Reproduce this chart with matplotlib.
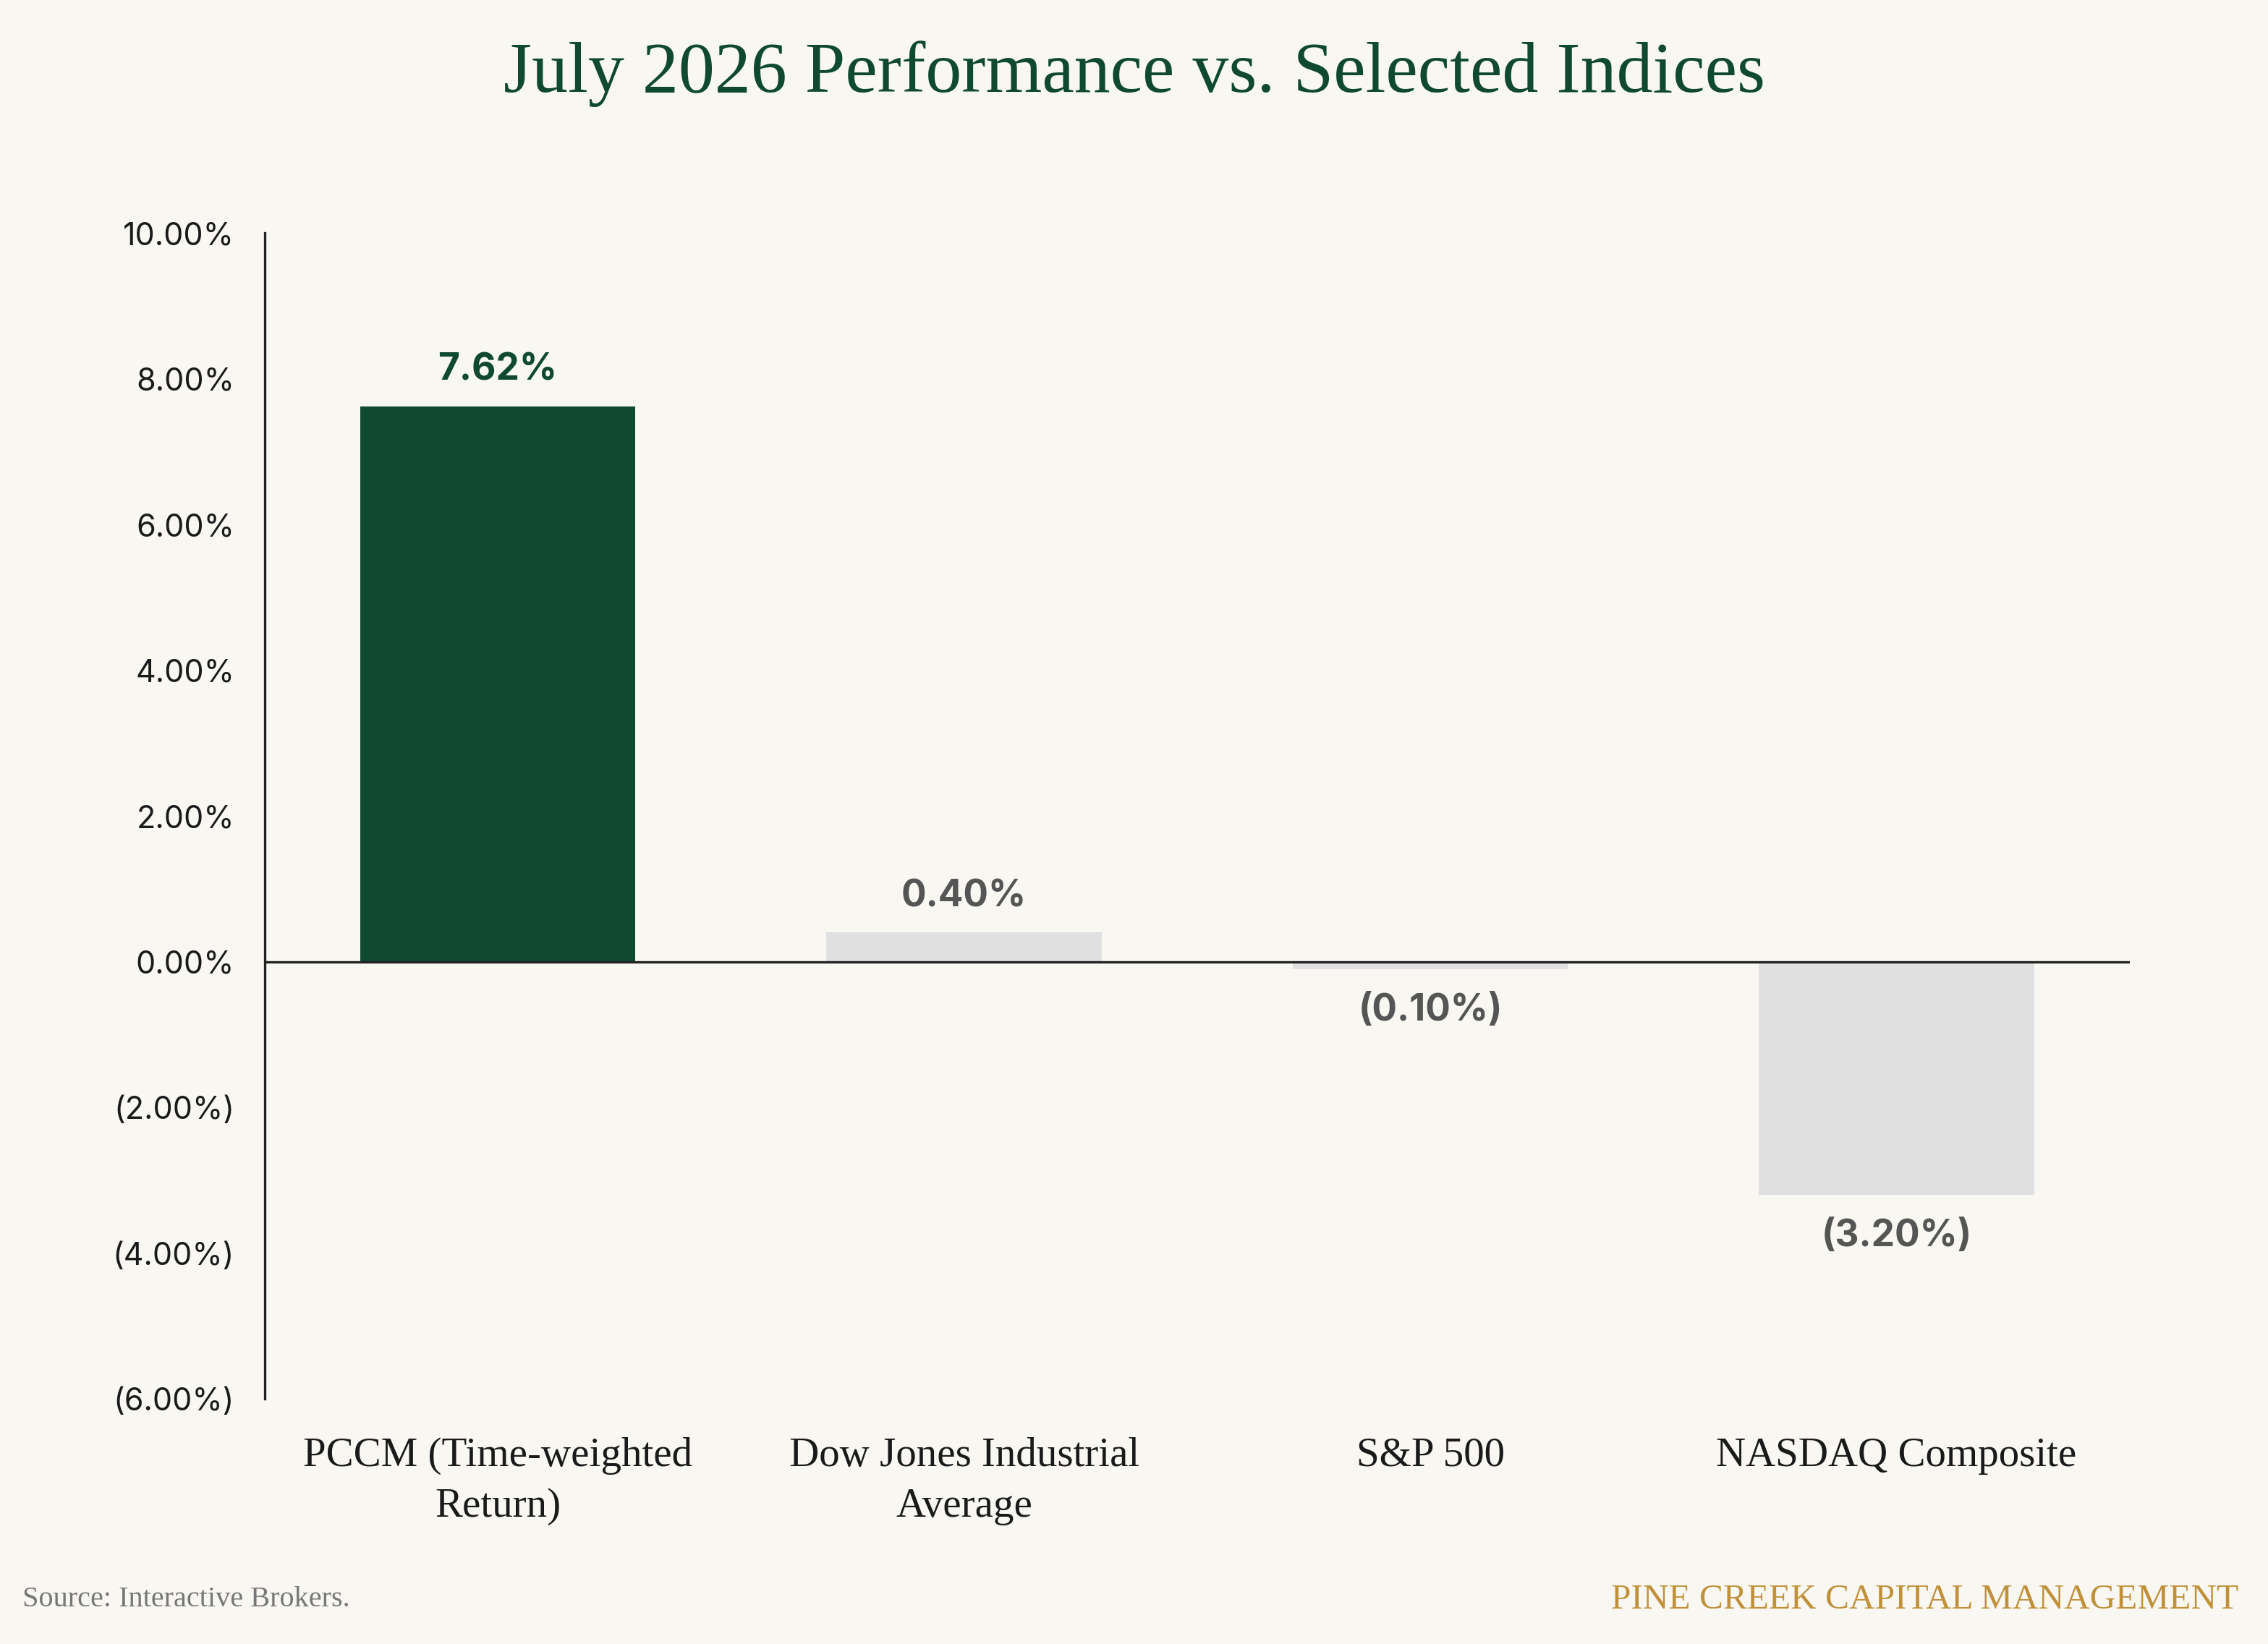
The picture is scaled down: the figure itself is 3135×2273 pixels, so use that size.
import matplotlib
matplotlib.use("Agg")
import matplotlib.pyplot as plt
from matplotlib.ticker import FixedLocator, FuncFormatter

categories = ["PCCM (Time-weighted\nReturn)", "Dow Jones Industrial\nAverage", "S&P 500", "NASDAQ Composite"]
values = [7.62, 0.40, -0.10, -3.20]
bar_colors = ["#0E4930", "#E0E0E0", "#E0E0E0", "#E0E0E0"]
label_colors = ["#0E4930", "#555555", "#555555", "#555555"]
yticks = [-6, -4, -2, 0, 2, 4, 6, 8, 10]

BG = "#F9F7F2"
SERIF = ["Liberation Serif", "DejaVu Serif"]
SANS = ["Inter", "DejaVu Sans"]

def fmt(v):
    if v < 0:
        return f"({abs(v):.2f}%)"
    return f"{v:.2f}%"

fig = plt.figure(figsize=(15.675, 11.365), dpi=200, facecolor=BG)
ax = fig.add_axes([0.1167, 0.1491, 0.939 - 0.1167, 0.8583 - 0.1491])
ax.set_facecolor(BG)

x = list(range(len(categories)))
ax.bar(x, values, width=0.59, color=bar_colors, zorder=2)
ax.axhline(0, color="#222222", linewidth=1.2, zorder=3)

ax.set_xlim(-0.5, 3.5)
ax.set_ylim(-6, 10)
ax.yaxis.set_major_locator(FixedLocator(yticks))
ax.yaxis.set_major_formatter(FuncFormatter(lambda v, p: fmt(v)))
ax.set_xticks(x)
ax.set_xticklabels(categories, fontfamily=SERIF, fontsize=20.5, color="#1a1a1a", linespacing=1.45)
ax.tick_params(axis="x", length=0, pad=19)
ax.tick_params(axis="y", length=0, pad=15, labelsize=15.5, labelcolor="#1a1a1a")
for lbl in ax.get_yticklabels():
    lbl.set_fontfamily(SANS)

for s in ["top", "right", "bottom"]:
    ax.spines[s].set_visible(False)
ax.spines["left"].set_color("#222222")
ax.spines["left"].set_linewidth(1.2)

for xi, v, c in zip(x, values, label_colors):
    if v >= 0:
        ax.annotate(fmt(v), (xi, v), xytext=(0, 9), textcoords="offset points",
                    ha="center", va="bottom", fontsize=18.5, fontweight="bold",
                    color=c, fontfamily=SANS)
    else:
        ax.annotate(fmt(v), (xi, v), xytext=(0, -12), textcoords="offset points",
                    ha="center", va="top", fontsize=18.5, fontweight="bold",
                    color=c, fontfamily=SANS)

fig.text(0.5, 0.955, "July 2026 Performance vs. Selected Indices", ha="center", va="center",
         fontsize=36, color="#0E4930", fontfamily=SERIF)
fig.text(0.010, 0.027, "Source: Interactive Brokers.", ha="left", va="center",
         fontsize=14.5, color="#777777", fontfamily=SERIF)
fig.text(0.987, 0.027, "PINE CREEK CAPITAL MANAGEMENT", ha="right", va="center",
         fontsize=17.8, color="#C0913A", fontfamily=SERIF)

fig.savefig("out.png", dpi=200, facecolor=BG)
